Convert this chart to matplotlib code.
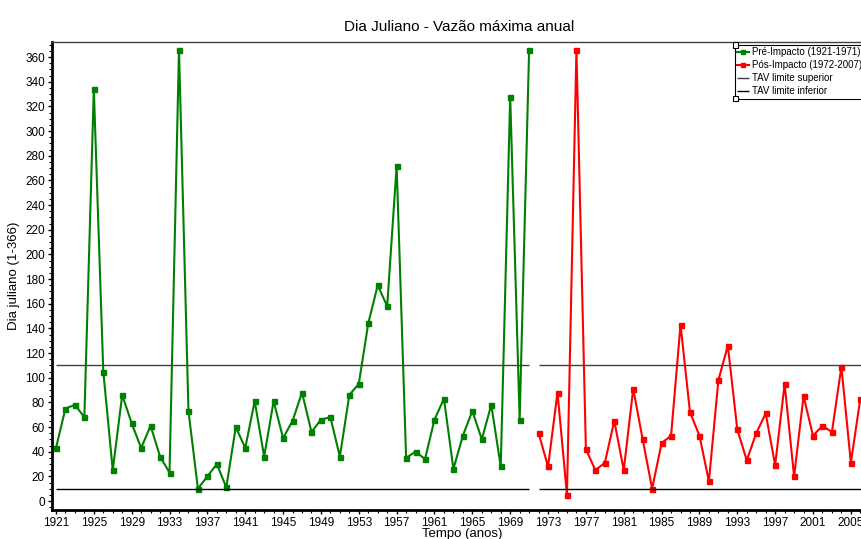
import numpy as np
import matplotlib
matplotlib.use('Agg')
from matplotlib import pyplot as plt
from matplotlib.patches import Rectangle
from matplotlib.ticker import MultipleLocator

plt.rcParams['font.family'] = ['Liberation Sans', 'DejaVu Sans']

# Pre-impact (1921-1971)
anos_pre = list(range(1921, 1972))
dia_pre = [43, 75, 78, 68, 334, 105, 25, 86, 63, 43,
           61, 36, 23, 366, 73, 10, 20, 30, 11, 60,
           43, 81, 36, 81, 51, 65, 88, 56, 66, 68,
           36, 86, 95, 144, 175, 158, 272, 35, 40, 34,
           66, 83, 26, 53, 73, 50, 78, 28, 328, 66,
           366]

# Post-impact (1972-2007), visible part up to 2006
anos_pos = list(range(1972, 2007))
dia_pos = [55, 28, 88, 5, 366, 42, 25, 31, 65, 25,
           91, 50, 10, 47, 53, 143, 72, 53, 16, 98,
           126, 58, 33, 55, 71, 29, 95, 20, 85, 53,
           61, 56, 109, 31, 83]

tav_sup = 110
tav_inf = 10
periodo_pre = (1921, 1971)
periodo_pos = (1972, 2007)

W, H = 861, 539
fig = plt.figure(figsize=(W / 100, H / 100), dpi=100)
ax = fig.add_axes([52 / W, 29 / H, 814 / W, 468 / H])

ax.plot(anos_pre, dia_pre, color='#008000', lw=1.5, marker='s', ms=3.6,
        label='Pré-Impacto (1921-1971)')
ax.plot(anos_pos, dia_pos, color='#ff0000', lw=1.5, marker='s', ms=3.6,
        label='Pós-Impacto (1972-2007)')
ax.hlines(tav_sup, *periodo_pre, color='#404040', lw=1)
ax.hlines(tav_sup, *periodo_pos, color='#404040', lw=1, label='TAV limite superior')
ax.hlines(tav_inf, *periodo_pre, color='black', lw=1)
ax.hlines(tav_inf, *periodo_pos, color='black', lw=1, label='TAV limite inferior')

ax.set_xlim(1920.58, 2006.6)
ax.set_ylim(-7.3, 372.3)
ax.set_xticks(range(1921, 2007, 4))
ax.xaxis.set_minor_locator(MultipleLocator(1))
ax.yaxis.set_major_locator(MultipleLocator(20))
ax.yaxis.set_minor_locator(MultipleLocator(5))
ax.tick_params(labelsize=8.5, direction='out', length=3, width=1, pad=2)
ax.tick_params(which='minor', length=2, width=0.8)

ax.spines['left'].set_linewidth(2)
ax.spines['bottom'].set_linewidth(2)
ax.spines['top'].set_linewidth(1)
ax.spines['top'].set_color('#404040')
ax.spines['right'].set_visible(False)

ax.set_title('Dia Juliano - Vazão máxima anual', fontsize=11, pad=8)
ax.set_xlabel('Tempo (anos)', fontsize=9.5, labelpad=1)
ax.set_ylabel('Dia juliano (1-366)', fontsize=9.5, labelpad=4)
ax.xaxis.set_label_coords((462 - 52) / 814, -0.038)

h, l = ax.get_legend_handles_labels()
leg = fig.legend(h, l, loc='upper left', bbox_to_anchor=(735 / W, 1 - 45 / H),
                 fontsize=7, frameon=True, fancybox=False, framealpha=1,
                 edgecolor='black', handlelength=1.2, handletextpad=0.3,
                 borderpad=0.25, labelspacing=0.3, borderaxespad=0)
leg.get_frame().set_linewidth(0.8)
for line in leg.get_lines():
    line.set_markersize(3.5)

# selection handles at legend corners
fig.canvas.draw()
bb = leg.get_window_extent()
for py in (bb.y0, bb.y1):
    fig.patches.append(Rectangle(((bb.x0 - 2.5) / W, (py - 2.5) / H), 5 / W, 5 / H,
                                 transform=fig.transFigure, facecolor='white',
                                 edgecolor='black', lw=0.8, zorder=10))

fig.savefig('out.png', dpi=100)
